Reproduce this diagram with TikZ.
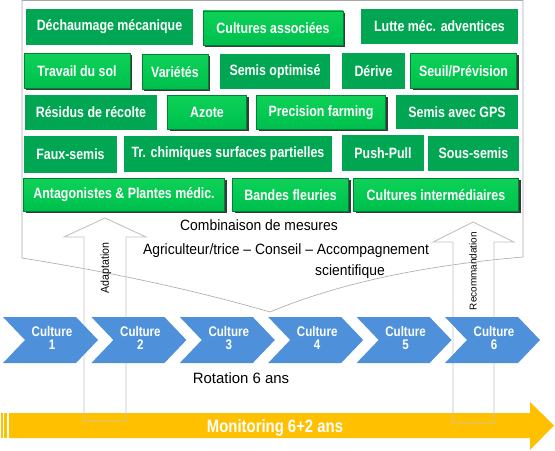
\documentclass[tikz,border=0pt]{standalone}
\usepackage{fontspec}
\setmainfont{Liberation Sans}
\newfontfamily\narrowfont[FakeStretch=0.83]{Liberation Sans}
\newfontfamily\condfont[FakeStretch=0.93]{Liberation Sans}
\usetikzlibrary{shadows}
\definecolor{gflat}{RGB}{0,166,81}
\definecolor{gtop}{RGB}{140,240,160}
\definecolor{gmidtop}{RGB}{20,212,90}
\definecolor{gmid}{RGB}{0,198,80}
\definecolor{gbot}{RGB}{0,172,72}
\definecolor{chevblue}{RGB}{78,145,218}
\definecolor{monyellow}{RGB}{255,192,0}
\definecolor{outlinegray}{RGB}{168,168,168}
\definecolor{arrowgray}{RGB}{195,195,195}
\pgfdeclareverticalshading{gbevel}{100bp}{color(0bp)=(gbot); color(40bp)=(gmid); color(86bp)=(gmidtop); color(94bp)=(gtop); color(100bp)=(gtop)}
\begin{document}
\begin{tikzpicture}[x=1bp,y=-1bp,
  boxtext/.style={text=white, font=\narrowfont\bfseries\fontsize{15}{17}\selectfont, inner sep=0pt, align=center},
  flatbox/.style={boxtext, fill=gflat},
  raisedbox/.style={boxtext, shading=gbevel, shading angle=0,
    draw=gbot!75!black, line width=0.4bp,
    general shadow={shadow xshift=2.2bp, shadow yshift=-1.8bp, fill=black!78}},
  chevshape/.style={fill=chevblue},
  chevtext/.style={text=white, font=\narrowfont\bfseries\fontsize{14}{13.3}\selectfont, align=center, inner sep=0pt},
  calloutline/.style={draw=outlinegray, line width=0.6bp},
  arrowline/.style={draw=arrowgray, line width=0.9bp, line join=miter},
  plaintext/.style={anchor=base, inner sep=0pt, text=black, font=\condfont\fontsize{15}{18}\selectfont}
]
\useasboundingbox[fill=white] (0,0) rectangle (555,451);

% callout outline
\draw[calloutline] (22,0.5) -- (22,258) .. controls (114,272.7) and (196.7,290.7) .. (270,312)
  .. controls (336.7,284) and (421,265.7) .. (523,257) -- (523,0.5) -- cycle;

% monitoring arrow
\fill[monyellow] (9,413) -- (530,413) -- (530,402) -- (554,425.5) -- (530,450) -- (530,438) -- (9,438) -- cycle;
\fill[monyellow] (1,413) rectangle (2.7,438);
\fill[monyellow] (4.3,413) rectangle (7.3,438);
\node[anchor=base, inner sep=0pt, text=white, font=\narrowfont\bfseries\fontsize{18}{20}\selectfont] (mon) at (275,432.5) {Monitoring 6+2 ans};

% up arrows
\draw[arrowline] (84,421) -- (84,237) -- (64,237) -- (105,218) -- (146,237) -- (126,237) -- (126,421) -- cycle;
\draw[arrowline] (453,423) -- (453,242) -- (433,242) -- (473,222) -- (514,242) -- (494,242) -- (494,423) -- cycle;
\node[rotate=90, inner sep=0pt, font=\condfont\fontsize{11.5}{13}\selectfont] (adapt) at (106,268) {Adaptation};
\node[rotate=90, inner sep=0pt, font=\fontsize{10}{12}\selectfont] (recom) at (473,271) {Recommandation};

% chevrons
\foreach \i/\x in {1/3,2/91.4,3/179.8,4/268.2,5/356.6,6/445}{
  \fill[chevshape] (\x,317) -- (\x+73,317) -- (\x+95,340) -- (\x+73,363) -- (\x,363) -- (\x+22,340) -- cycle;
  \node[chevtext] (cul\i) at (\x+49,338) {Culture\\\i};
}
\node[plaintext, font=\fontsize{15}{18}\selectfont] (rot) at (241,383) {Rotation 6 ans};

% texts in callout
\node[plaintext] (comb) at (259,231) {Combinaison de mesures};
\node[plaintext] (agri) at (286,255) {Agriculteur/trice – Conseil – Accompagnement};
\node[plaintext] (sci) at (350,276) {scientifique};

% green boxes row 1
\node[flatbox, minimum width=167bp, minimum height=36bp] (dech) at (109.5,27) {Déchaumage mécanique};
\node[raisedbox, minimum width=140bp, minimum height=34bp] (cass) at (273,28) {Cultures associées};
\node[flatbox, minimum width=157bp, minimum height=35bp] (lutte) at (439.5,26.5) {Lutte méc. adventices};
% row 2
\node[raisedbox, minimum width=106bp, minimum height=35bp] (trav) at (77,71) {Travail du sol};
\node[raisedbox, minimum width=66bp, minimum height=35bp] (vari) at (175,72) {Variétés};
\node[flatbox, minimum width=110bp, minimum height=35bp] (semopt) at (275,71.5) {Semis optimisé};
\node[flatbox, minimum width=63bp, minimum height=36bp] (deri) at (373.5,71) {Dérive};
\node[raisedbox, minimum width=106bp, minimum height=35bp] (seuil) at (463.5,71) {Seuil/Prévision};
% row 3
\node[flatbox, minimum width=132bp, minimum height=35bp] (resi) at (91,112.5) {Résidus de récolte};
\node[raisedbox, minimum width=79bp, minimum height=34bp] (azote) at (207,112.5) {Azote};
\node[raisedbox, minimum width=129bp, minimum height=34bp] (prec) at (321,112.5) {Precision farming};
\node[flatbox, minimum width=122bp, minimum height=34bp] (gps) at (457,112) {Semis avec GPS};
% row 4
\node[flatbox, minimum width=93bp, minimum height=37bp] (faux) at (70.5,154.5) {Faux-semis};
\node[flatbox, minimum width=208bp, minimum height=36bp] (trchim) at (228,154) {Tr. chimiques surfaces partielles};
\node[flatbox, minimum width=82bp, minimum height=36bp] (push) at (383,153) {Push-Pull};
\node[flatbox, minimum width=91bp, minimum height=35bp] (sous) at (473.5,153.5) {Sous-semis};
% row 5
\node[raisedbox, minimum width=201bp, minimum height=33bp] (antag) at (124,195) {Antagonistes \& Plantes médic.};
\node[raisedbox, minimum width=116bp, minimum height=33bp] (bandes) at (290.5,195) {Bandes fleuries};
\node[raisedbox, minimum width=165bp, minimum height=33bp] (cint) at (436,195) {Cultures intermédiaires};
\end{tikzpicture}
\end{document}
